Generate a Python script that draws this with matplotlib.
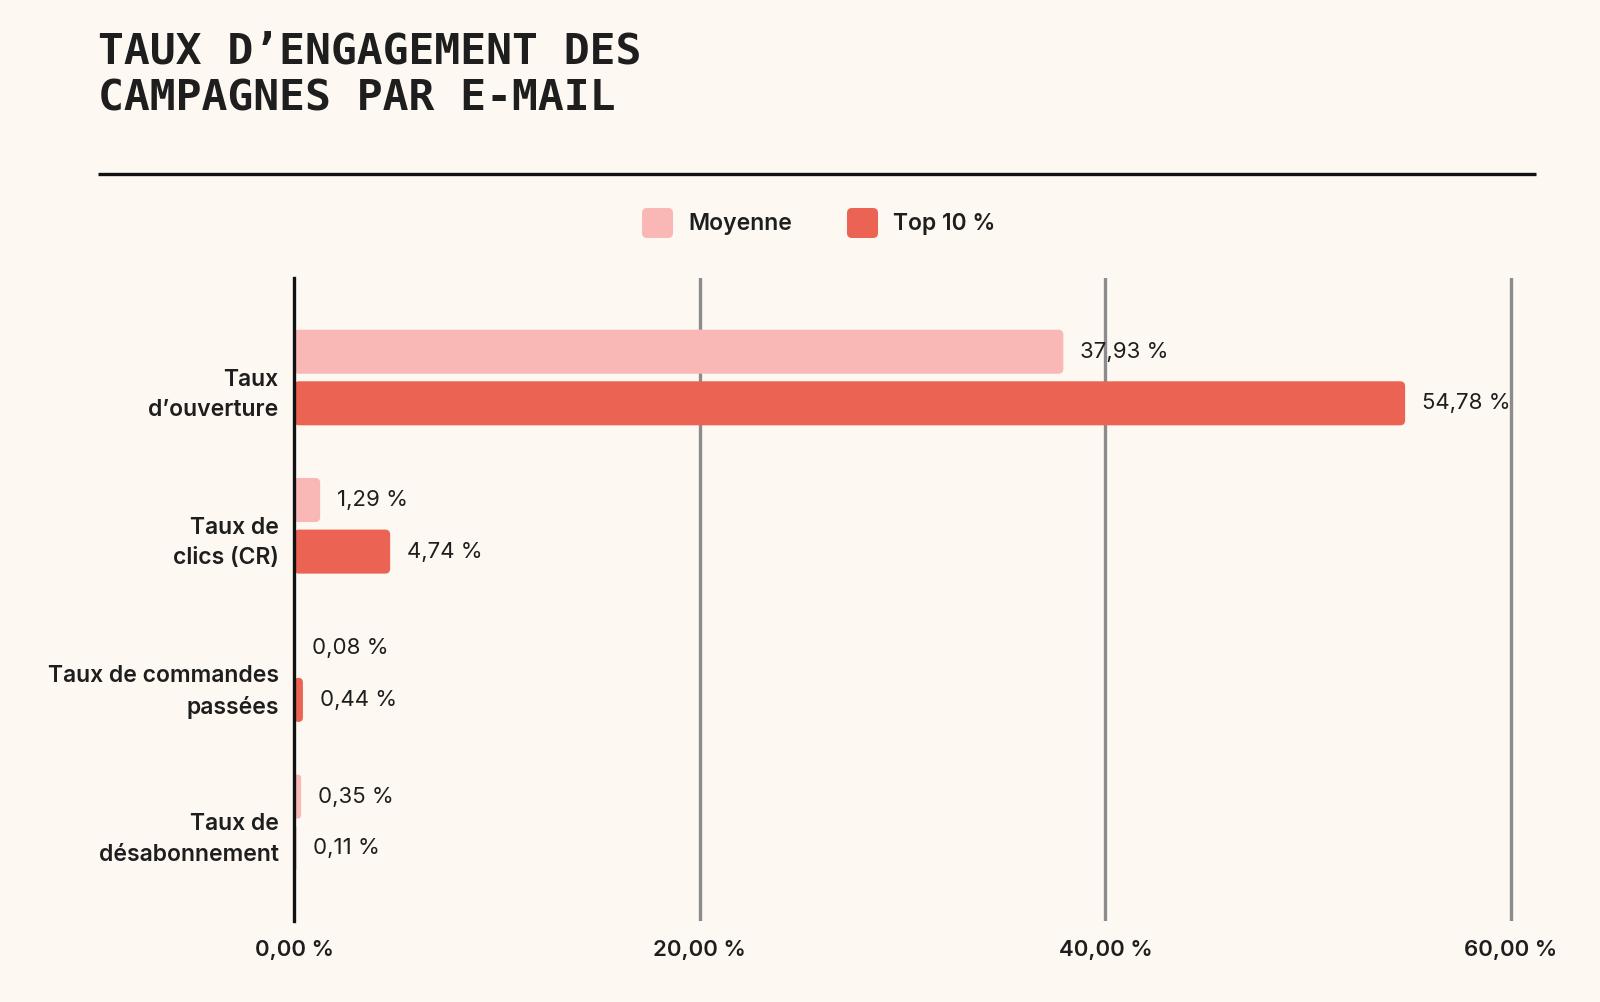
import matplotlib
matplotlib.use("Agg")
import matplotlib.pyplot as plt
from matplotlib.patches import FancyBboxPatch
from matplotlib.transforms import ScaledTranslation
import numpy as np

# data
categories = ["Taux\nd\u2019ouverture", "Taux de\nclics (CR)",
              "Taux de commandes\npassées", "Taux de\ndésabonnement"]
moyenne = [37.93, 1.29, 0.08, 0.35]
top10 = [54.78, 4.74, 0.44, 0.11]
series_names = ["Moyenne", "Top 10 %"]
xticks = [0, 20, 40, 60]

BG = "#FDF8F2"
PINK = "#F9B7B6"
RED = "#EB6352"
INK = "#1E1E1E"
SANS = ["Inter", "DejaVu Sans"]

W, H = 1600, 1002
fig = plt.figure(figsize=(W / 100, H / 100), dpi=100)
fig.patch.set_facecolor(BG)

# axes box in pixels: 0 % at x=294, 60 % at x=1511, top 278, bottom 921
px_per_pct = (1511 - 294) / 60
xmax = 61
left, right, top, bottom = 294, 294 + xmax * px_per_pct, 278, 921
ax = fig.add_axes([left / W, 1 - bottom / H, (right - left) / W, (bottom - top) / H])
ax.set_facecolor(BG)

y = np.arange(len(categories))
off, bh = 0.174, 0.297
b1 = ax.barh(y - off, moyenne, height=bh, color=PINK, zorder=2)
b2 = ax.barh(y + off, top10, height=bh, color=RED, zorder=2)

ax.set_xlim(0, xmax)
ax.set_ylim(3.665, -0.671)

# rounded corners for the bars
x_per_px = 1 / px_per_pct
y_per_px = (3.665 + 0.671) / (bottom - top)
aspect = y_per_px / x_per_px
for bars in (b1, b2):
    for r in bars:
        bx, by, bw, bhh = r.get_x(), r.get_y(), r.get_width(), r.get_height()
        r.set_visible(False)
        rad = min(5 * x_per_px, bw / 2)
        ax.add_patch(FancyBboxPatch((bx, by), bw, bhh,
                                    boxstyle=f"round,pad=0,rounding_size={rad}",
                                    mutation_aspect=aspect, fc=r.get_facecolor(),
                                    ec="none", zorder=2))

# value labels
def fmt(v):
    return f"{v:.2f}".replace(".", ",") + " %"

for vals, pos in ((moyenne, y - off), (top10, y + off)):
    for v, p in zip(vals, pos):
        ax.annotate(fmt(v), (v, p), xytext=(12, 0),
                    textcoords="offset points", va="center", ha="left",
                    fontsize=16, color=INK, family=SANS)

# grid and spines
for t in xticks[1:]:
    ax.axvline(t, color="#8C8C8C", lw=2.4, zorder=1)
for s in ("top", "right", "bottom"):
    ax.spines[s].set_visible(False)
ax.spines["left"].set_linewidth(2.4)
ax.spines["left"].set_color("#111111")
ax.spines["left"].set_zorder(3)

ax.set_xticks(xticks)
ax.set_xticklabels([fmt(t) for t in xticks],
                   fontsize=16, fontweight="semibold", color=INK, family=SANS)
ax.tick_params(axis="x", length=0, pad=14)
ax.set_yticks(y)
ax.set_yticklabels(categories, fontsize=16.5, fontweight="semibold", color=INK,
                   family=SANS, linespacing=1.5)
ax.tick_params(axis="y", length=0, pad=11)
# category labels sit a little below the bar pair centre in the original
shift = ScaledTranslation(0, -0.105, fig.dpi_scale_trans)
for lab in ax.get_yticklabels():
    lab.set_transform(lab.get_transform() + shift)

# overlay in pixel coordinates for title, rule and legend
ov = fig.add_axes([0, 0, 1, 1])
ov.set_xlim(0, W)
ov.set_ylim(H, 0)
ov.axis("off")
ov.patch.set_visible(False)

title_font = dict(family=["DejaVu Sans Mono"], fontweight="bold", fontsize=31,
                  color=INK, va="baseline", ha="left")
ov.text(98, 63, "TAUX D\u2019ENGAGEMENT DES", **title_font)
ov.text(98, 110, "CAMPAGNES PAR E-MAIL", **title_font)
ov.plot([98, 1536], [173.5, 173.5], color="#111111", lw=2.4,
        solid_capstyle="butt")

for name, col, x0 in ((series_names[0], PINK, 642), (series_names[1], RED, 847)):
    ov.add_patch(FancyBboxPatch((x0, 208), 31, 30,
                                boxstyle="round,pad=0,rounding_size=5",
                                fc=col, ec="none"))
    ov.text(x0 + 46, 224, name, fontsize=16.5, fontweight="semibold",
            color=INK, family=SANS, va="center", ha="left")

fig.savefig("out.png", dpi=100, facecolor=BG)
